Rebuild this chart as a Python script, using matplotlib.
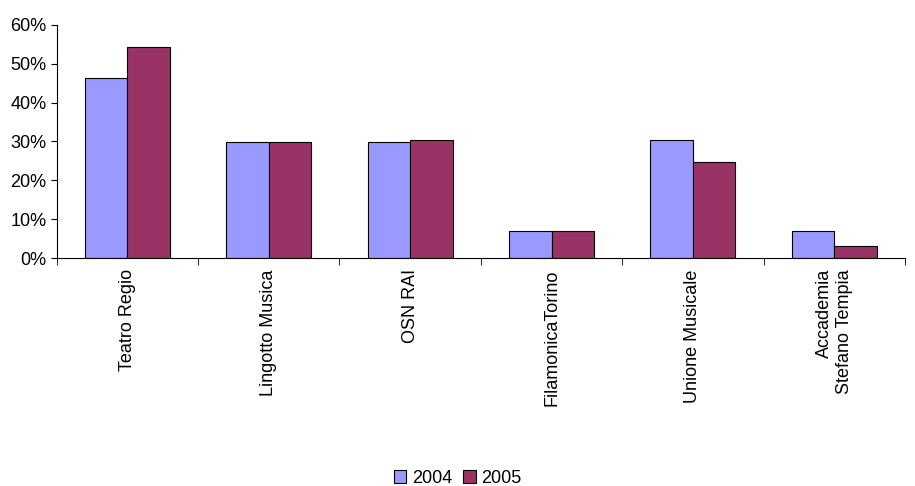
import numpy as np
import matplotlib
matplotlib.use("Agg")
import matplotlib.pyplot as plt

categories = ["Teatro Regio", "Lingotto Musica", "OSN RAI", "FilamonicaTorino",
              "Unione Musicale", "Accademia\nStefano Tempia"]
v2004 = [46.3, 29.8, 29.8, 6.9, 30.3, 6.9]
v2005 = [54.2, 29.8, 30.3, 6.9, 24.6, 3.2]

plt.rcParams['font.family'] = ['Liberation Sans', 'DejaVu Sans']
fig = plt.figure(figsize=(9.15, 4.86), dpi=100)
ax = fig.add_axes([0.062, 0.469, 0.927, 0.48])

x = np.arange(len(categories))
w = 0.3
ax.bar(x - w/2, v2004, w, color="#9999FF", edgecolor="black", linewidth=0.8, label="2004")
ax.bar(x + w/2, v2005, w, color="#993366", edgecolor="black", linewidth=0.8, label="2005")

ax.set_xlim(-0.5, len(categories) - 0.5)
ax.set_ylim(0, 60)
ax.set_yticks(range(0, 61, 10))
ax.set_yticklabels([f"{t}%" for t in range(0, 61, 10)], fontsize=13)
ax.set_xticks(x)
ax.set_xticklabels(categories, rotation=90, fontsize=13, va="top", ha="center",
                   multialignment="right")
ax.tick_params(axis="x", length=0, pad=8)
ax.set_xticks(np.arange(-0.5, len(categories), 1), minor=True)
ax.tick_params(axis="x", which="minor", length=5)
ax.tick_params(axis="y", length=4)
for s in ("top", "right"):
    ax.spines[s].set_visible(False)

fig.legend(loc="lower center", bbox_to_anchor=(0.5, -0.035), ncol=2, frameon=False,
           fontsize=13, handlelength=0.7, handleheight=0.7, columnspacing=0.6, handletextpad=0.3)

fig.savefig("out.png", dpi=100)
